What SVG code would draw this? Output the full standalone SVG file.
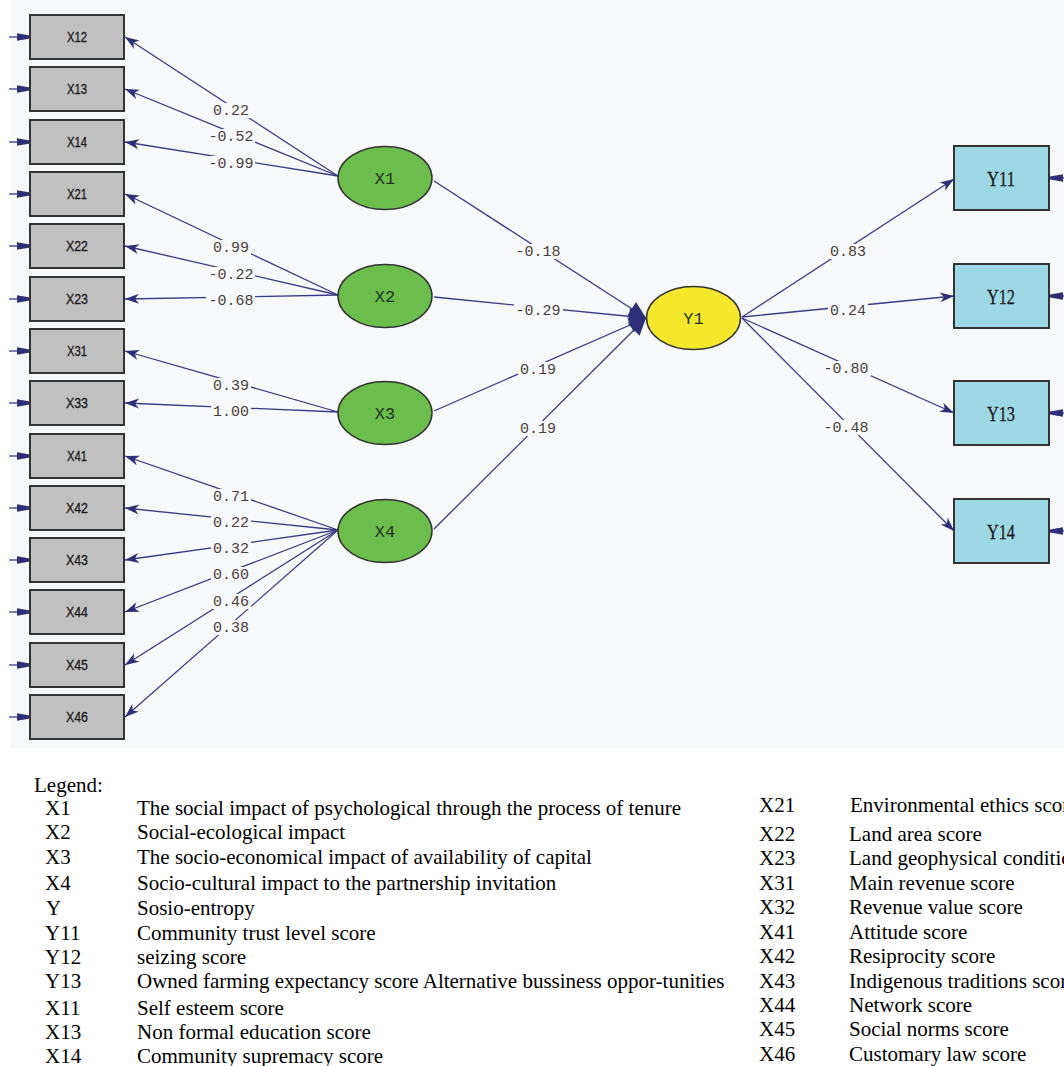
<svg xmlns="http://www.w3.org/2000/svg" width="1064" height="1066" viewBox="0 0 1064 1066">
<defs>
<marker id="ah" viewBox="-15 -6 16 12" refX="0" refY="0" markerWidth="16" markerHeight="12" markerUnits="userSpaceOnUse" orient="auto"><path d="M0,0 L-14,-5 L-10,0 L-14,5 Z" fill="#2f2f78"/></marker>
<marker id="big" viewBox="-18 -9 19 18" refX="0" refY="0" markerWidth="19" markerHeight="18" markerUnits="userSpaceOnUse" orient="auto"><path d="M0,0 L-17,-8 L-17,8 Z" fill="#2f2f78"/></marker>
<marker id="err" viewBox="-15 -5 16 10" refX="0" refY="0" markerWidth="16" markerHeight="10" markerUnits="userSpaceOnUse" orient="auto"><path d="M0,-1.5 L0,1.5 L-13,3.8 L-13,-3.8 Z" fill="#2f2f78"/></marker>
</defs>
<style>
.bx{fill:#c0c0c0;stroke:#333;stroke-width:2}
.by{fill:#9dd8e4;stroke:#333;stroke-width:2}
.el{fill:#6bbd4c;stroke:#333;stroke-width:1.5}
.ey{fill:#f5e82c;stroke:#333;stroke-width:1.5}
.bt{font-family:"Liberation Sans",Arial,sans-serif;font-size:14px;fill:#1a1a1a;text-anchor:middle;stroke:#1a1a1a;stroke-width:0.3}
.yt{font-family:"Liberation Serif","Times New Roman",serif;font-size:21px;fill:#1a1a1a;text-anchor:middle;stroke:#1a1a1a;stroke-width:0.3}
.et{font-family:"Liberation Mono","Courier New",monospace;font-size:17px;fill:#223322;text-anchor:middle}
.ln{stroke:#3a3a85;stroke-width:1.3;fill:none}
.lb{font-family:"Liberation Mono","Courier New",monospace;font-size:15px;fill:#4a3f3a;text-anchor:middle}
.mk{fill:#f7f8fa}
.lg{font-family:"Liberation Serif","Times New Roman",serif;font-size:21px;fill:#000}
</style>
<rect x="10" y="0" width="1054" height="748" fill="#f7f8fa"/>

<g id="connectors">
<g class="ln" marker-end="url(#err)">
<line x1="9" y1="37" x2="30" y2="37"/><line x1="9" y1="89" x2="30" y2="89"/><line x1="9" y1="142" x2="30" y2="142"/><line x1="9" y1="194" x2="30" y2="194"/><line x1="9" y1="246" x2="30" y2="246"/><line x1="9" y1="299" x2="30" y2="299"/><line x1="9" y1="351" x2="30" y2="351"/><line x1="9" y1="403" x2="30" y2="403"/><line x1="9" y1="456" x2="30" y2="456"/><line x1="9" y1="508" x2="30" y2="508"/><line x1="9" y1="560" x2="30" y2="560"/><line x1="9" y1="612" x2="30" y2="612"/><line x1="9" y1="665" x2="30" y2="665"/><line x1="9" y1="717" x2="30" y2="717"/>
<line x1="1075" y1="178" x2="1050" y2="178"/><line x1="1075" y1="296" x2="1050" y2="296"/><line x1="1075" y1="413" x2="1050" y2="413"/><line x1="1075" y1="531" x2="1050" y2="531"/>
</g>
<g class="ln" marker-end="url(#ah)">
<line x1="338" y1="176" x2="125" y2="37"/><line x1="338" y1="176" x2="125" y2="89"/><line x1="338" y1="176" x2="125" y2="142"/>
<line x1="338" y1="295" x2="125" y2="194"/><line x1="338" y1="295" x2="125" y2="246"/><line x1="338" y1="295" x2="125" y2="299"/>
<line x1="338" y1="412" x2="125" y2="351"/><line x1="338" y1="412" x2="125" y2="403"/>
<line x1="338" y1="530" x2="125" y2="456"/><line x1="338" y1="530" x2="125" y2="508"/><line x1="338" y1="530" x2="125" y2="560"/><line x1="338" y1="530" x2="125" y2="612"/><line x1="338" y1="530" x2="125" y2="665"/><line x1="338" y1="530" x2="125" y2="717"/>
</g>
<g class="ln" marker-end="url(#big)">
<line x1="434" y1="181" x2="646" y2="318"/><line x1="434" y1="297" x2="646" y2="318"/><line x1="434" y1="411" x2="646" y2="318"/><line x1="434" y1="529" x2="646" y2="318"/>
</g>
<g class="ln" marker-end="url(#ah)">
<line x1="742" y1="317" x2="954" y2="179"/><line x1="742" y1="317" x2="954" y2="296"/><line x1="742" y1="318" x2="954" y2="413"/><line x1="742" y1="318" x2="954" y2="531"/>
</g>
<g class="mk">
<rect x="211" y="103" width="40" height="15"/><rect x="206" y="129" width="49" height="15"/><rect x="206" y="156" width="49" height="15"/>
<rect x="211" y="240" width="40" height="15"/><rect x="206" y="267" width="49" height="15"/><rect x="206" y="293" width="49" height="15"/>
<rect x="211" y="378" width="40" height="15"/><rect x="211" y="404" width="40" height="15"/>
<rect x="211" y="489" width="40" height="15"/><rect x="211" y="515" width="40" height="15"/><rect x="211" y="541" width="40" height="15"/><rect x="211" y="567" width="40" height="15"/><rect x="211" y="594" width="40" height="15"/><rect x="211" y="620" width="40" height="15"/>
<rect x="514" y="244" width="49" height="15"/><rect x="514" y="303" width="49" height="15"/><rect x="518" y="362" width="40" height="15"/><rect x="518" y="421" width="40" height="15"/>
<rect x="828" y="244" width="40" height="15"/><rect x="828" y="303" width="40" height="15"/><rect x="822" y="361" width="49" height="15"/><rect x="822" y="420" width="49" height="15"/>
</g>
<g class="lb">
<text x="231" y="115">0.22</text><text x="231" y="141">-0.52</text><text x="231" y="168">-0.99</text>
<text x="231" y="252">0.99</text><text x="231" y="279">-0.22</text><text x="231" y="305">-0.68</text>
<text x="231" y="390">0.39</text><text x="231" y="416">1.00</text>
<text x="231" y="501">0.71</text><text x="231" y="527">0.22</text><text x="231" y="553">0.32</text><text x="231" y="579">0.60</text><text x="231" y="606">0.46</text><text x="231" y="632">0.38</text>
<text x="538" y="256">-0.18</text><text x="538" y="315">-0.29</text><text x="538" y="374">0.19</text><text x="538" y="433">0.19</text>
<text x="848" y="256">0.83</text><text x="848" y="315">0.24</text><text x="846" y="373">-0.80</text><text x="846" y="432">-0.48</text>
</g>
</g>

<g id="X12"><rect class="bx" x="30" y="15" width="94" height="44"/><text class="bt" x="77" y="42" textLength="20" lengthAdjust="spacingAndGlyphs">X12</text></g>
<g id="X13"><rect class="bx" x="30" y="67" width="94" height="44"/><text class="bt" x="77" y="94" textLength="20" lengthAdjust="spacingAndGlyphs">X13</text></g>
<g id="X14"><rect class="bx" x="30" y="120" width="94" height="44"/><text class="bt" x="77" y="147" textLength="20" lengthAdjust="spacingAndGlyphs">X14</text></g>
<g id="X21"><rect class="bx" x="30" y="172" width="94" height="44"/><text class="bt" x="77" y="199" textLength="20" lengthAdjust="spacingAndGlyphs">X21</text></g>
<g id="X22"><rect class="bx" x="30" y="224" width="94" height="44"/><text class="bt" x="77" y="251" textLength="22" lengthAdjust="spacingAndGlyphs">X22</text></g>
<g id="X23"><rect class="bx" x="30" y="277" width="94" height="44"/><text class="bt" x="77" y="304" textLength="22" lengthAdjust="spacingAndGlyphs">X23</text></g>
<g id="X31"><rect class="bx" x="30" y="329" width="94" height="44"/><text class="bt" x="77" y="356" textLength="20" lengthAdjust="spacingAndGlyphs">X31</text></g>
<g id="X33"><rect class="bx" x="30" y="381" width="94" height="44"/><text class="bt" x="77" y="408" textLength="22" lengthAdjust="spacingAndGlyphs">X33</text></g>
<g id="X41"><rect class="bx" x="30" y="434" width="94" height="44"/><text class="bt" x="77" y="461" textLength="20" lengthAdjust="spacingAndGlyphs">X41</text></g>
<g id="X42"><rect class="bx" x="30" y="486" width="94" height="44"/><text class="bt" x="77" y="513" textLength="22" lengthAdjust="spacingAndGlyphs">X42</text></g>
<g id="X43"><rect class="bx" x="30" y="538" width="94" height="44"/><text class="bt" x="77" y="565" textLength="22" lengthAdjust="spacingAndGlyphs">X43</text></g>
<g id="X44"><rect class="bx" x="30" y="590" width="94" height="44"/><text class="bt" x="77" y="617" textLength="22" lengthAdjust="spacingAndGlyphs">X44</text></g>
<g id="X45"><rect class="bx" x="30" y="643" width="94" height="44"/><text class="bt" x="77" y="670" textLength="22" lengthAdjust="spacingAndGlyphs">X45</text></g>
<g id="X46"><rect class="bx" x="30" y="695" width="94" height="44"/><text class="bt" x="77" y="722" textLength="22" lengthAdjust="spacingAndGlyphs">X46</text></g>

<g id="X1"><ellipse class="el" cx="385" cy="178" rx="47" ry="31.5"/><text class="et" x="385" y="184">X1</text></g>
<g id="X2"><ellipse class="el" cx="385" cy="296" rx="47" ry="31.5"/><text class="et" x="385" y="302">X2</text></g>
<g id="X3"><ellipse class="el" cx="385" cy="413" rx="47" ry="31.5"/><text class="et" x="385" y="419">X3</text></g>
<g id="X4"><ellipse class="el" cx="385" cy="531" rx="47" ry="31.5"/><text class="et" x="385" y="537">X4</text></g>
<g id="Y1"><ellipse class="ey" cx="693.5" cy="318" rx="47" ry="31.5"/><text class="et" x="693.5" y="324">Y1</text></g>

<g id="Y11"><rect class="by" x="954" y="146" width="95" height="64"/><text class="yt" x="1001" y="186" textLength="28" lengthAdjust="spacingAndGlyphs">Y11</text></g>
<g id="Y12"><rect class="by" x="954" y="264" width="95" height="64"/><text class="yt" x="1001" y="304" textLength="28" lengthAdjust="spacingAndGlyphs">Y12</text></g>
<g id="Y13"><rect class="by" x="954" y="381" width="95" height="64"/><text class="yt" x="1001" y="421" textLength="28" lengthAdjust="spacingAndGlyphs">Y13</text></g>
<g id="Y14"><rect class="by" x="954" y="499" width="95" height="64"/><text class="yt" x="1001" y="539" textLength="28" lengthAdjust="spacingAndGlyphs">Y14</text></g>

<g id="legend" class="lg">
<text x="34" y="792">Legend:</text>
<text x="45" y="815">X1</text><text x="137" y="815">The social impact of psychological through the process of tenure</text>
<text x="45" y="839">X2</text><text x="137" y="839">Social-ecological impact</text>
<text x="45" y="864">X3</text><text x="137" y="864">The socio-economical impact of availability of capital</text>
<text x="45" y="890">X4</text><text x="137" y="890">Socio-cultural impact to the partnership invitation</text>
<text x="46" y="915">Y</text><text x="137" y="915">Sosio-entropy</text>
<text x="45" y="940">Y11</text><text x="137" y="940">Community trust level score</text>
<text x="45" y="964">Y12</text><text x="137" y="964">seizing score</text>
<text x="45" y="988">Y13</text><text x="137" y="988">Owned farming expectancy score Alternative bussiness oppor-tunities</text>
<text x="45" y="1015">X11</text><text x="137" y="1015">Self esteem score</text>
<text x="45" y="1039">X13</text><text x="137" y="1039">Non formal education score</text>
<text x="45" y="1063">X14</text><text x="137" y="1063">Community supremacy score</text>
<text x="759" y="812">X21</text><text x="850" y="812">Environmental ethics score</text>
<text x="759" y="841">X22</text><text x="849" y="841">Land area score</text>
<text x="759" y="865">X23</text><text x="849" y="865">Land geophysical condition score</text>
<text x="759" y="890">X31</text><text x="849" y="890">Main revenue score</text>
<text x="759" y="914">X32</text><text x="849" y="914">Revenue value score</text>
<text x="759" y="939">X41</text><text x="849" y="939">Attitude score</text>
<text x="759" y="963">X42</text><text x="849" y="963">Resiprocity score</text>
<text x="759" y="988">X43</text><text x="849" y="988">Indigenous traditions score</text>
<text x="759" y="1012">X44</text><text x="849" y="1012">Network score</text>
<text x="759" y="1036">X45</text><text x="849" y="1036">Social norms score</text>
<text x="759" y="1061">X46</text><text x="849" y="1061">Customary law score</text>
</g>
</svg>
